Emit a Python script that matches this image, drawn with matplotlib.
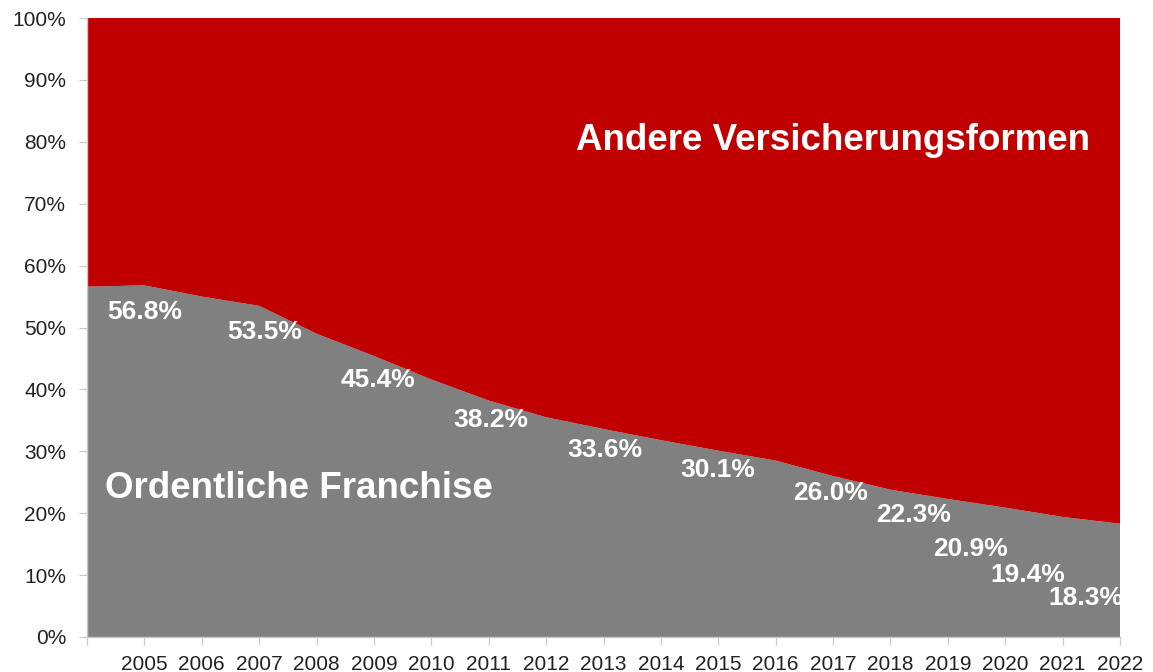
import matplotlib
matplotlib.use("Agg")
import matplotlib.pyplot as plt
from matplotlib.ticker import FuncFormatter

plt.rcParams['font.family'] = ['Liberation Sans', 'DejaVu Sans']

years = [2004, 2005, 2006, 2007, 2008, 2009, 2010, 2011, 2012, 2013,
         2014, 2015, 2016, 2017, 2018, 2019, 2020, 2021, 2022]
franchise = [56.6, 56.8, 55.0, 53.5, 49.0, 45.4, 41.6, 38.2, 35.5, 33.6,
             31.8, 30.1, 28.5, 26.0, 23.8, 22.3, 20.9, 19.4, 18.3]
andere = [100 - v for v in franchise]

label_years = [2005, 2007, 2009, 2011, 2013, 2015, 2017, 2019, 2020, 2021, 2022]
tick_years = list(range(2005, 2023))

series_names = ["Ordentliche Franchise", "Andere Versicherungsformen"]

# layout for value labels (x offset in years, y position in %)
label_dx = [0.0, 0.1, 0.07, 0.03, 0.03, 0.0, -0.04, -0.6, -0.6, -0.6, -0.6]
label_y = [52.5, 49.3, 41.5, 35.0, 30.2, 27.0, 23.3, 19.7, 14.2, 10.0, 6.3]

fig = plt.figure(figsize=(11.53, 6.72), dpi=100)
ax = fig.add_axes([87/1153, 35/672, (1120-87)/1153, (637-18)/672])

ax.stackplot(years, franchise, andere, colors=["#808080", "#C00000"], linewidth=0)

ax.set_xlim(2004, 2022)
ax.set_ylim(0, 100)
ax.set_yticks(range(0, 101, 10))
ax.yaxis.set_major_formatter(FuncFormatter(lambda v, p: f"{int(v)}%"))
ax.set_xticks([2004] + tick_years)
ax.set_xticklabels([""] + [str(y) for y in tick_years])

for s in ["top", "right"]:
    ax.spines[s].set_visible(False)
for s in ["left", "bottom"]:
    ax.spines[s].set_color("#c8c8c8")
    ax.spines[s].set_linewidth(1)

ax.tick_params(axis="y", direction="out", length=6, color="#c8c8c8",
               labelsize=15, labelcolor="#222222", pad=9)
ax.tick_params(axis="x", direction="out", length=6, color="#c8c8c8",
               labelsize=15, labelcolor="#222222", pad=7)

lookup = dict(zip(years, franchise))
for yr, dx, ly in zip(label_years, label_dx, label_y):
    ax.text(yr + dx, ly, f"{lookup[yr]:.1f}%", ha="center", va="center",
            color="white", fontsize=19, fontweight="bold")

ax.text(2017.0, 80.2, series_names[1], ha="center", va="center",
        color="white", fontsize=26.5, fontweight="bold")
ax.text(2007.7, 24.0, series_names[0], ha="center", va="center",
        color="white", fontsize=26.5, fontweight="bold")

fig.savefig("out.png", dpi=100)
